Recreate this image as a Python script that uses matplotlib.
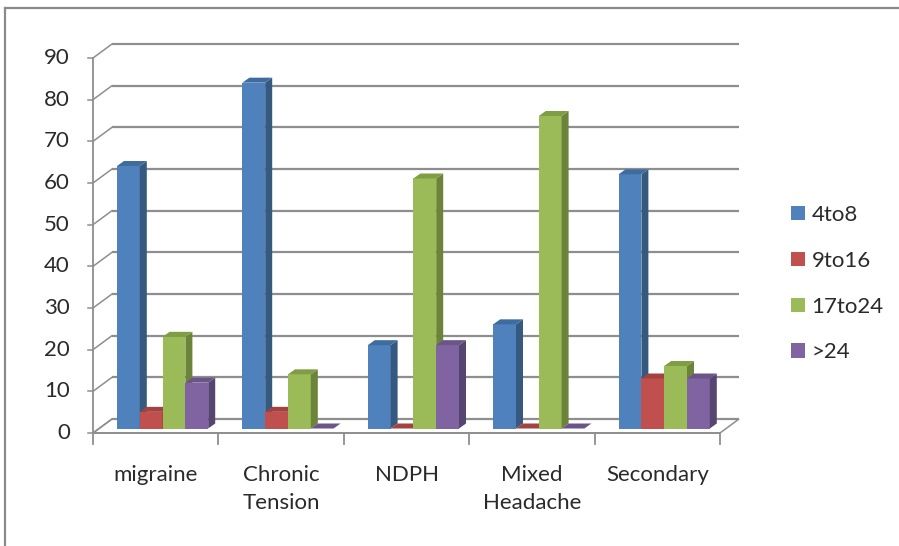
import matplotlib
matplotlib.use("Agg")
import matplotlib.pyplot as plt
from matplotlib.patches import Polygon, Patch
from matplotlib.lines import Line2D

plt.rcParams['font.family'] = ['Lato', 'DejaVu Sans']

categories = ["migraine", "Chronic\nTension", "NDPH", "Mixed\nHeadache", "Secondary"]
series_names = ["4to8", "9to16", "17to24", ">24"]
values_4to8 = [63, 83, 20, 25, 61]
values_9to16 = [4, 4, 0, 0, 12]
values_17to24 = [22, 13, 60, 75, 15]
values_over24 = [11, 0, 20, 0, 12]
y_ticks = [0, 10, 20, 30, 40, 50, 60, 70, 80, 90]

series_values = [values_4to8, values_9to16, values_17to24, values_over24]
front_colors = ["#4F81BD", "#C0504D", "#9BBB59", "#8064A2"]
side_colors = ["#36597F", "#8A3735", "#6B8439", "#574571"]
top_colors = ["#3F6C9F", "#A24341", "#7F9E44", "#6A5488"]

W, H = 899, 546
fig = plt.figure(figsize=(W / 100, H / 100), dpi=100)
ax = fig.add_axes([0, 0, 1, 1])

# pixel geometry of the front plane of the plot
X0_PX, CAT_PX = 93, 125.4
Y0_PX, UNIT_PX = 433, 4.1667
ax.set_xlim(-X0_PX / CAT_PX, (W - X0_PX) / CAT_PX)
ax.set_ylim(-(H - Y0_PX) / UNIT_PX, Y0_PX / UNIT_PX)
ax.axis("off")

def px_dx(p):
    return p / CAT_PX

def px_dy(p):
    return p / UNIT_PX

n = len(categories)
ymax = y_ticks[-1]
DX, DY = px_dx(19), px_dy(14)          # wall depth
grid_col = "#8E8E8E"
text_col = "#2A2A2A"

# floor
floor = Polygon([(0, 0), (n, 0), (n + DX, DY), (DX, DY)], closed=True,
                facecolor="white", edgecolor=grid_col, lw=1.1, zorder=1)
ax.add_patch(floor)

# back wall gridlines and side wall diagonals
for t in y_ticks:
    ax.plot([DX, n + DX], [t + DY, t + DY], color=grid_col, lw=1.6, zorder=2,
            solid_capstyle="butt")
    ax.plot([0, DX], [t, t + DY], color=grid_col, lw=1.1, zorder=2)
    ax.plot([0, px_dx(-5)], [t, t], color=grid_col, lw=1.1, zorder=2)
    ax.text(px_dx(-23), t, str(t), ha="right", va="center", fontsize=16,
            color=text_col)

# front value axis
ax.plot([0, 0], [0, ymax], color=grid_col, lw=1.3, zorder=2)
ax.plot([0, n], [0, 0], color=grid_col, lw=1.3, zorder=2)
# category ticks
for i in range(n + 1):
    ax.plot([i, i], [0, px_dy(-11)], color=grid_col, lw=1.3, zorder=2)

# bars with a shallow 3-D look
BAR_X0 = px_dx(24)
BAR_W = px_dx(22.8)
BAR_BASE = px_dy(4.5)
SDX, SDY = px_dx(7), px_dy(5)
z = 3
for i in range(n):
    for j, vals in enumerate(series_values):
        v = vals[i]
        x = i + BAR_X0 + j * BAR_W
        ax.bar(x, v, width=BAR_W, bottom=BAR_BASE, align="edge",
               color=front_colors[j], edgecolor="none", zorder=z)
        top = BAR_BASE + v
        side = Polygon([(x + BAR_W, BAR_BASE), (x + BAR_W + SDX, BAR_BASE + SDY),
                        (x + BAR_W + SDX, top + SDY), (x + BAR_W, top)],
                       closed=True, facecolor=side_colors[j], edgecolor="none",
                       zorder=z)
        cap = Polygon([(x, top), (x + SDX, top + SDY), (x + BAR_W + SDX, top + SDY),
                       (x + BAR_W, top)], closed=True, facecolor=top_colors[j],
                      edgecolor="none", zorder=z)
        ax.add_patch(side)
        ax.add_patch(cap)
        z += 0.01

# category labels
for i, name in enumerate(categories):
    ax.text(i + 0.5, px_dy(-32), name, ha="center", va="top", fontsize=16,
            linespacing=1.5, color=text_col)

# legend
handles = [Patch(facecolor=c, edgecolor="none") for c in front_colors]
ax.legend(handles, series_names, loc="upper left",
          bbox_to_anchor=(791 / W, 1 - 205 / H), frameon=False, fontsize=16,
          handlelength=0.62, handleheight=0.62, handletextpad=0.3,
          labelspacing=1.16, borderpad=0, borderaxespad=0,
          labelcolor=text_col)

# outer chart border
fig.add_artist(Line2D([5 / W, 5 / W], [0, 1 - 8 / H], color="#8A8A8A", lw=1.6,
                      transform=fig.transFigure))
fig.add_artist(Line2D([5 / W, 1], [1 - 8 / H, 1 - 8 / H], color="#8A8A8A", lw=1.6,
                      transform=fig.transFigure))

fig.savefig("out.png", dpi=100)
